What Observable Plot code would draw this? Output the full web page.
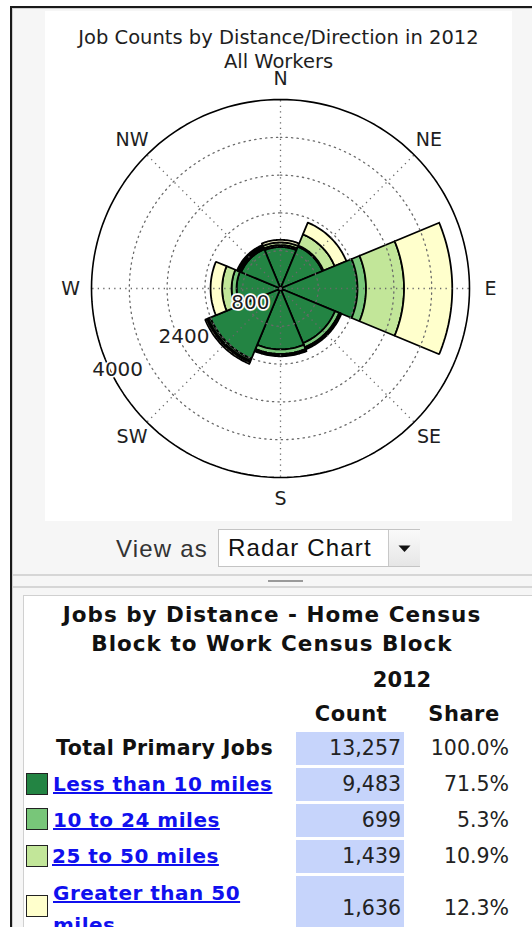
<!DOCTYPE html>
<html>
<head>
<meta charset="utf-8">
<script src="https://cdn.jsdelivr.net/npm/d3@7"></script>
<script src="https://cdn.jsdelivr.net/npm/@observablehq/plot@0.6"></script>
<style>
  html, body { margin: 0; padding: 0; background: #ffffff; width: 532px; height: 927px; overflow: hidden; }
  .abs { position: absolute; }
  #frame { left: 10px; top: 6px; width: 540px; height: 940px; border-left: 2px solid #1a1a1a; border-top: 2px solid #1a1a1a; background: #f6f6f6; }
  #frameinner { left: 12px; top: 8px; width: 540px; height: 940px; border-left: 1px solid #cfcfcf; border-top: 1px solid #cfcfcf; }
  #imgarea { left: 45px; top: 11px; width: 467px; height: 510px; background: #ffffff; }
  .ttl { font-family: "DejaVu Sans", sans-serif; font-size: 19.5px; color: #1e1e1e; text-align: center; width: 467px; left: 0; line-height: 24px; }
  #chart { left: 0; top: 59px; }
  .viewas { font-family: "Liberation Sans", Arial, sans-serif; font-size: 24px; letter-spacing: 1.2px; color: #333; line-height: 30px; }
  #select { left: 218px; top: 529px; width: 200px; height: 36px; border: 1px solid #c4c4c4; background: #ffffff; box-sizing: content-box; }
  #selbtn { left: 169px; top: 0; width: 31px; height: 36px; border-left: 1px solid #c8c8c8; background: linear-gradient(#fafafa, #e6e6e6); }
  .sep { height: 0; border-top: 2px solid #d6d6d6; }
  #tablebox { left: 23px; top: 595px; width: 540px; height: 360px; background: #ffffff; border-left: 1px solid #d0d0d0; border-top: 1px solid #d0d0d0; }
  .hd { font-family: "DejaVu Sans", Verdana, sans-serif; font-weight: bold; color: #111; }
  .num { font-family: "DejaVu Sans", Tahoma, sans-serif; font-size: 20.5px; color: #222; text-align: right; line-height: 33px; }
  .cell { background: #c6d4fb; }
  .lnk { font-family: "DejaVu Sans", Verdana, sans-serif; font-weight: bold; font-size: 20px; letter-spacing: 0.5px; color: #1010ee; text-decoration: underline; line-height: 32px; white-space: nowrap; }
  .sw { width: 20px; height: 20px; border: 1.5px solid #222; }
</style>
</head>
<body>
<div id="frame" class="abs"></div>
<div id="frameinner" class="abs"></div>
<div id="imgarea" class="abs">
  <div class="abs ttl" style="top:15px;">Job Counts by Distance/Direction in 2012</div>
  <div class="abs ttl" style="top:39px;">All Workers</div>
  <div id="chart" class="abs"></div>
</div>

<div class="abs viewas" style="left:116px; top:534px;">View as</div>
<div id="select" class="abs">
  <div class="abs viewas" style="left:9px; top:3px; color:#111;">Radar Chart</div>
  <div id="selbtn" class="abs">
    <svg width="31" height="36" style="position:absolute;left:0;top:0"><path d="M9.5,15.5 L21.5,15.5 L15.5,22 Z" fill="#111"/></svg>
  </div>
</div>
<div class="abs sep" style="left:13px; top:574px; width:520px;"></div>
<div class="abs" style="left:268px; top:580px; width:35px; height:0; border-top:2px solid #9a9a9a;"></div>
<div class="abs sep" style="left:13px; top:586px; width:520px;"></div>

<div id="tablebox" class="abs"></div>
<div id="table"></div>

<script>
// ---------- data ----------
const directions = ["N", "NE", "E", "SE", "S", "SW", "W", "NW"];
const categories = ["Less than 10 miles", "10 to 24 miles", "25 to 50 miles", "Greater than 50 miles"];
const lessThan10 = [880, 960, 1630, 1250, 1290, 1610, 930, 900];
const from10to24 = [40, 25, 180, 95, 95, 45, 105, 35];
const from25to50 = [55, 255, 805, 25, 25, 30, 200, 30];
const over50 = [55, 270, 1020, 25, 25, 40, 245, 30];
const categoryColors = ["#238443", "#78c679", "#c2e699", "#ffffcc"];
const ringValues = [800, 1600, 2400, 3200];
const outerValue = 4000;
const ringLabels = [800, 2400, 4000];

const tableYear = "2012";
const tableCounts = ["13,257", "9,483", "699", "1,439", "1,636"];
const tableShares = ["100.0%", "71.5%", "5.3%", "10.9%", "12.3%"];

// ---------- polar helpers ----------
const series = [lessThan10, from10to24, from25to50, over50];
const rad = d => d * Math.PI / 180;
const px = (r, b) => r * Math.sin(rad(b));
const py = (r, b) => r * Math.cos(rad(b));

const wedges = [];
directions.forEach((dir, i) => {
  const b = i * 45;
  let r0 = 0;
  series.forEach((vals, k) => {
    const r1 = r0 + vals[i];
    const id = dir + "-" + k;
    const pts = [];
    for (let a = b - 22.5; a <= b + 22.5 + 1e-9; a += 1.5) pts.push([r1, a]);
    if (r0 === 0) pts.push([0, b]);
    else for (let a = b + 22.5; a >= b - 22.5 - 1e-9; a -= 1.5) pts.push([r0, a]);
    pts.push(pts[0]);
    pts.forEach(([r, a]) => wedges.push({id, cat: categories[k], x: px(r, a), y: py(r, a)}));
    r0 = r1;
  });
});

const circle = (r) => d3.range(0, 361, 2).map(a => ({r, x: px(r, a), y: py(r, a)}));
const rings = ringValues.flatMap(circle);
const outer = circle(outerValue);
const spokes = directions.map((d, i) => ({x2: px(outerValue, i * 45), y2: py(outerValue, i * 45)}));
const compass = directions.map((d, i) => ({text: d, x: px(outerValue * 1.111, i * 45), y: py(outerValue * 1.111, i * 45)}));
const rlabels = ringLabels.map(v => ({text: String(v), x: px(v * 0.985, 243), y: py(v * 0.985, 243)}));

const chart = Plot.plot({
  width: 467,
  height: 451,
  marginLeft: 46, marginRight: 43, marginTop: 29, marginBottom: 44,
  x: {domain: [-outerValue, outerValue], axis: null},
  y: {domain: [-outerValue, outerValue], axis: null},
  color: {domain: categories, range: categoryColors, legend: false},
  style: {fontFamily: "DejaVu Sans", background: "transparent", overflow: "visible"},
  marks: [
    Plot.line(wedges, {x: "x", y: "y", z: "id", fill: "cat", stroke: "#000", strokeWidth: 1.8, curve: "linear", strokeLinejoin: "miter"}),
    Plot.line(rings, {x: "x", y: "y", z: "r", stroke: "#6a6a6a", strokeWidth: 1.3, strokeDasharray: "1.3,4.2"}),
    Plot.link(spokes, {x1: 0, y1: 0, x2: "x2", y2: "y2", stroke: "#6a6a6a", strokeWidth: 1.3, strokeDasharray: "1.3,4.2"}),
    Plot.line(outer, {x: "x", y: "y", stroke: "#000", strokeWidth: 1.6}),
    Plot.text(compass, {x: "x", y: "y", text: "text", fontSize: 19, fill: "#1e1e1e"}),
    Plot.text(rlabels, {x: "x", y: "y", text: "text", fontSize: 20, fill: "#1e1e1e", stroke: "white", strokeWidth: 3.5, dx: 3, dy: -3})
  ]
});
document.getElementById("chart").appendChild(chart);

// ---------- table ----------
const T = document.getElementById("table");
function add(html, style, cls) {
  const d = document.createElement("div");
  d.className = "abs " + (cls || "");
  d.setAttribute("style", style);
  d.innerHTML = html;
  T.appendChild(d);
  return d;
}
add("Jobs by Distance - Home Census", "left:23px; top:600px; width:498px; text-align:center; font-size:21.5px; letter-spacing:1px; line-height:30px;", "hd");
add("Block to Work Census Block", "left:23px; top:629px; width:498px; text-align:center; font-size:21.5px; letter-spacing:1px; line-height:30px;", "hd");
add(tableYear, "left:352px; top:665px; width:100px; text-align:center; font-size:21px; line-height:30px;", "hd");
add("Count", "left:301px; top:699px; width:100px; text-align:center; font-size:21px; letter-spacing:0.5px; line-height:30px;", "hd");
add("Share", "left:414px; top:699px; width:100px; text-align:center; font-size:21px; letter-spacing:0.5px; line-height:30px;", "hd");
add("Total Primary Jobs", "left:20px; top:733px; width:253px; text-align:right; font-size:20.5px; letter-spacing:0.4px; line-height:30px;", "hd");

const rowTops = [732, 768, 804, 840, 876];
const rowHeights = [33, 33, 33, 33, 60];
rowTops.forEach((t, i) => {
  add("", `left:296px; top:${t}px; width:108px; height:${rowHeights[i]}px;`, "cell");
  const ty = i === 4 ? t + 16 : t;
  add(tableCounts[i], `left:296px; top:${ty}px; width:105px;`, "num");
  add(tableShares[i], `left:404px; top:${ty}px; width:105px;`, "num");
});
const swTops = [773, 808, 845, 895];
categories.forEach((c, k) => {
  add("", `left:26px; top:${swTops[k]}px; background:${categoryColors[k]};`, "sw");
});
add(categories[0], "left:53px; top:768px;", "lnk");
add(categories[1], "left:53px; top:804px;", "lnk");
add(categories[2], "left:52px; top:840px;", "lnk");
add("Greater than 50<br>miles", "left:53px; top:877px; line-height:32px;", "lnk");
</script>
</body>
</html>
